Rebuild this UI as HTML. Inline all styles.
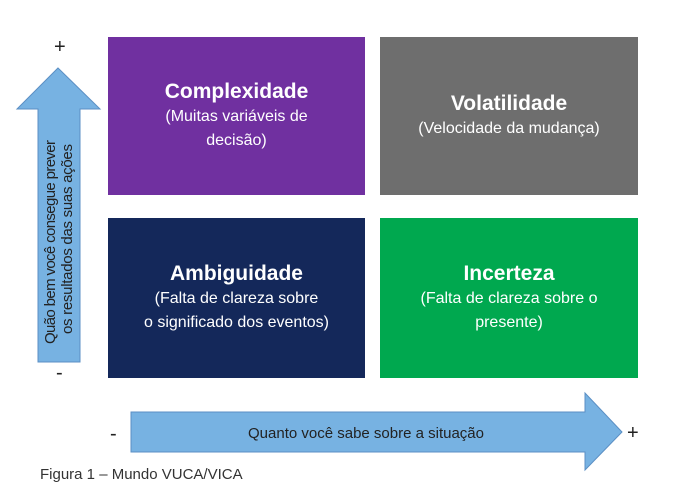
<!DOCTYPE html>
<html><head><meta charset="utf-8"><style>
body{margin:0;width:690px;height:503px;background:#fff;position:relative;font-family:"Liberation Sans",sans-serif;overflow:hidden}
.b{position:absolute;color:#fff;text-align:center;display:flex;flex-direction:column;justify-content:center}
.b h{display:block;font-weight:bold;font-size:21px;line-height:26px}
.b s{text-decoration:none;font-size:16px;line-height:24px}
.t{position:absolute;font-size:20px;color:#222}
</style></head><body>
<div class="b" style="left:108px;top:37px;width:257px;height:158px;background:#7030a0"><h>Complexidade</h><s>(Muitas variáveis de<br>decisão)</s></div>
<div class="b" style="left:380px;top:37px;width:258px;height:158px;background:#6e6e6e"><h>Volatilidade</h><s>(Velocidade da mudança)</s></div>
<div class="b" style="left:108px;top:218px;width:257px;height:160px;background:#14285a"><h>Ambiguidade</h><s>(Falta de clareza sobre<br>o significado dos eventos)</s></div>
<div class="b" style="left:380px;top:218px;width:258px;height:160px;background:#00a84f"><h>Incerteza</h><s>(Falta de clareza sobre o<br>presente)</s></div>
<svg width="690" height="503" style="position:absolute;left:0;top:0">
<polygon points="58,68 100,109 80,109 80,362 38,362 38,109 17,109" fill="#77b2e2" stroke="#5b8fc4" stroke-width="1"/>
<polygon points="131,412 585,412 585,393 622,432 585,470 585,452 131,452" fill="#77b2e2" stroke="#5b8fc4" stroke-width="1"/>
<text transform="translate(55,344) rotate(-90)" font-family="Liberation Sans" font-size="15" fill="#222" textLength="204">Quão bem você consegue prever</text>
<text transform="translate(72,334) rotate(-90)" font-family="Liberation Sans" font-size="15" fill="#222" textLength="190">os resultados das suas ações</text>
<text x="366" y="438" text-anchor="middle" font-family="Liberation Sans" font-size="15" fill="#222">Quanto você sabe sobre a situação</text>
</svg>
<div class="t" style="left:54px;top:36px">+</div>
<div class="t" style="left:56px;top:362px">-</div>
<div class="t" style="left:110px;top:423px">-</div>
<div class="t" style="left:627px;top:422px">+</div>
<div style="position:absolute;left:40px;top:466px;font-size:15px;color:#333">Figura 1 – Mundo VUCA/VICA</div>
</body></html>
